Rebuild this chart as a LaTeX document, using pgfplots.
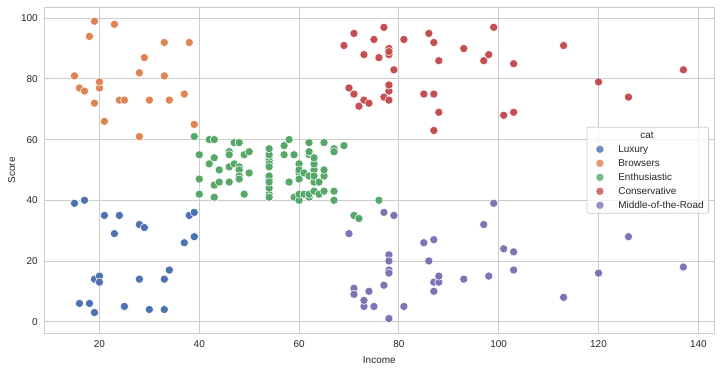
\documentclass[border=0pt]{standalone}
\usepackage{fontspec}
\setmainfont{Liberation Sans}
\usepackage{pgfplots}
\pgfplotsset{compat=1.18}
\definecolor{cblue}{HTML}{4C72B0}
\definecolor{corange}{HTML}{DD8452}
\definecolor{cgreen}{HTML}{55A868}
\definecolor{cred}{HTML}{C44E52}
\definecolor{cpurple}{HTML}{8172B3}
\definecolor{txt}{HTML}{262626}
\definecolor{grd}{HTML}{CCCCCC}
\begin{document}
\begin{tikzpicture}
\useasboundingbox (-44.3bp,-35.7bp) rectangle (675.7bp,333.3bp);
\begin{axis}[
  at={(0,0)}, anchor=south west,
  scale only axis, width=670bp, height=326bp,
  xmin=8.95, xmax=143.2, ymin=-3.85, ymax=103.6,
  xtick={20,40,...,140}, ytick={0,20,...,100},
  grid=major, major grid style={grd, line width=0.8bp},
  axis line style={grd, line width=1bp},
  major tick length=0pt, tick style={draw=none},
  /pgf/number format/assume math mode=true,
  tick label style={font=\fontsize{10}{12}\selectfont, text=txt},
  xticklabel style={yshift=-4bp},
  yticklabel style={xshift=-3bp},
  label style={font=\fontsize{10}{12}\selectfont, text=txt},
  xlabel={Income}, ylabel={Score},
  xlabel style={yshift=-2bp},
  ylabel style={yshift=-1bp},
  only marks,
  legend cell align=left,
  legend image code/.code={\draw[mark repeat=2,mark phase=2,#1] plot coordinates {(0bp,0bp) (8bp,0bp) (16bp,0bp)};},
  legend style={at={(1,0.5)}, anchor=east, xshift=-5.3bp, draw=grd, line width=0.8bp,
    rounded corners=2bp, fill=white, fill opacity=0.8, text opacity=1, text=txt,
    font=\fontsize{10}{12}\selectfont, row sep=0.3bp, inner xsep=5bp, inner ysep=1.2bp,
    nodes={inner xsep=0bp, inner ysep=2.1bp, text height=7.5bp, text depth=2bp},
    /tikz/column 1/.style={column sep=14.3bp}},
]
\addlegendimage{empty legend}
\addlegendentry{\hspace*{22bp}cat}

\addplot[mark=*, mark size=4.1bp, mark options={draw=white, line width=0.5bp, fill=cblue}] coordinates {
(15,39) (16,6) (17,40) (18,6) (19,3) (19,14) (20,15) (20,13) (21,35) (23,29) (24,35) (25,5)
(28,14) (28,32) (29,31) (30,4) (33,4) (33,14) (34,17) (37,26) (38,35) (39,36) (39,28)};
\addlegendentry{Luxury}

\addplot[mark=*, mark size=4.1bp, mark options={draw=white, line width=0.5bp, fill=corange}] coordinates {
(15,81) (16,77) (17,76) (18,94) (19,72) (19,99) (20,77) (20,79) (21,66) (23,98) (24,73)
(25,73) (28,82) (28,61) (29,87) (30,73) (33,92) (33,81) (34,73) (37,75) (38,92) (39,65)};
\addlegendentry{Browsers}

\addplot[mark=*, mark size=4.1bp, mark options={draw=white, line width=0.5bp, fill=cgreen}] coordinates {
(39,61) (40,55) (40,47) (40,42) (40,42) (42,52) (42,60) (43,54) (43,60) (43,45) (43,41)
(44,50) (44,46) (46,51) (46,46) (46,56) (46,55) (47,52) (47,59) (48,51) (48,59) (48,50)
(48,48) (48,59) (48,47) (49,55) (49,42) (50,49) (50,56)
(54,47) (54,54) (54,53) (54,48) (54,52) (54,42) (54,51) (54,55) (54,41) (54,44) (54,57) (54,46)
(57,58) (57,55) (58,60) (58,46) (59,55) (59,41)
(60,49) (60,40) (60,42) (60,52) (60,47) (60,50) (61,42) (61,49)
(62,41) (62,48) (62,59) (62,55) (62,56) (62,42)
(63,50) (63,46) (63,43) (63,48) (63,52) (63,54) (64,42) (64,46)
(65,48) (65,50) (65,43) (65,59) (67,43) (67,57) (67,56) (67,40)
(69,58) (71,35) (72,34) (76,40)};
\addlegendentry{Enthusiastic}

\addplot[mark=*, mark size=4.1bp, mark options={draw=white, line width=0.5bp, fill=cred}] coordinates {
(69,91) (70,77) (71,95) (71,75) (71,75) (72,71) (73,88) (73,73) (74,72) (75,93) (76,87)
(77,97) (77,74) (78,90) (78,88) (78,76) (78,89) (78,78) (78,73) (79,83) (81,93) (85,75)
(86,95) (87,63) (87,75) (87,92) (88,86) (88,69) (93,90) (97,86) (98,88) (99,97) (101,68)
(103,85) (103,69) (113,91) (120,79) (126,74) (137,83)};
\addlegendentry{Conservative}

\addplot[mark=*, mark size=4.1bp, mark options={draw=white, line width=0.5bp, fill=cpurple}] coordinates {
(70,29) (71,11) (71,9) (73,5) (73,7) (74,10) (75,5) (77,12) (77,36) (78,22) (78,17) (78,20)
(78,16) (78,1) (78,1) (79,35) (81,5) (85,26) (86,20) (87,27) (87,13) (87,10) (88,13) (88,15)
(93,14) (97,32) (98,15) (99,39) (101,24) (103,17) (103,23) (113,8) (120,16) (126,28) (137,18)};
\addlegendentry{Middle-of-the-Road}
\end{axis}
\end{tikzpicture}
\end{document}
